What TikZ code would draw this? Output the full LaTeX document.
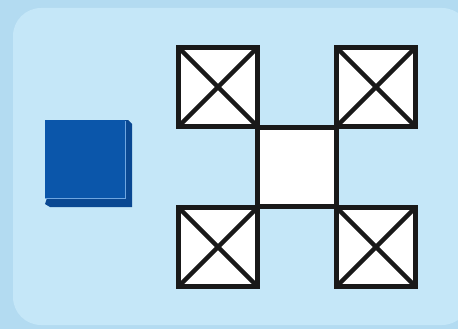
\documentclass[tikz,border=0pt]{standalone}
\begin{document}
\begin{tikzpicture}[x=1pt,y=-1pt,
  cellbox/.style={draw=black!90,line width=4.5pt,fill=white},
  xline/.style={draw=black!90,line width=4.5pt}]
\definecolor{bgout}{HTML}{B3DBF1}
\definecolor{bgin}{HTML}{C5E7F8}
\definecolor{cubefront}{HTML}{0B56AA}
\definecolor{cubeside}{HTML}{0A4892}
\definecolor{cubelight}{HTML}{6FA6E0}
\fill[bgout] (0,0) rectangle (458,329);
\useasboundingbox (0,0) rectangle (458,329);
\fill[bgin,rounded corners=28pt] (13,8) rectangle (470,325);
% cube
\fill[cubeside] (47,198) -- (45,204) -- (50,207) -- (132,207) -- (132,124) -- (128,120) -- (125,120) -- (125,198) -- cycle;
\fill[cubefront] (45,120) rectangle (125,198);
\draw[cubelight,line width=0.8pt] (45,198.5) -- (125.5,198.5) -- (125.5,121);
% cells
\foreach \n/\cx/\cy in {tl/218/87, tr/376/87, bl/218/247, br/376/247}{
  \node[cellbox,minimum size=79pt,inner sep=0pt,outer sep=0pt] (\n) at (\cx,\cy) {};
  \draw[xline] (\n.north west) -- (\n.south east);
  \draw[xline] (\n.north east) -- (\n.south west);
}
\node[cellbox,minimum size=79pt,inner sep=0pt] (c) at (297,167) {};
\end{tikzpicture}
\end{document}
